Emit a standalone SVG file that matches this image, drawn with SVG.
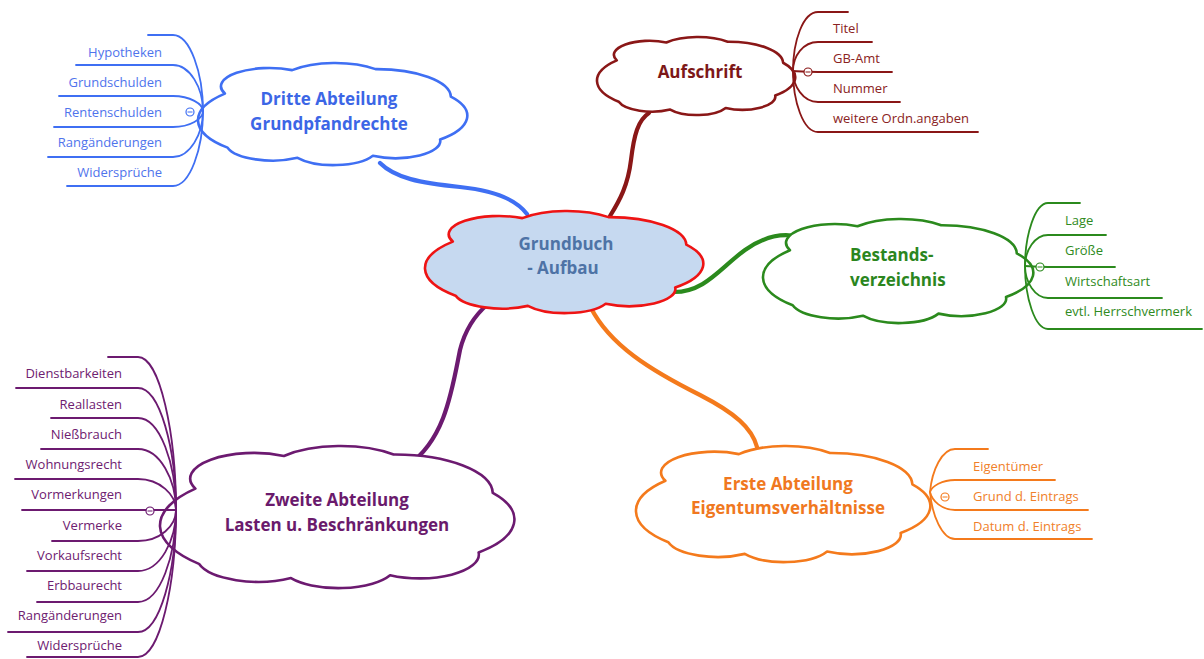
<svg xmlns="http://www.w3.org/2000/svg" xmlns:xlink="http://www.w3.org/1999/xlink" width="1204" height="659" viewBox="0 0 1204 659">
<style>
.title{font-family:"Open Sans","Liberation Sans",sans-serif;font-size:17px;font-weight:bold;text-anchor:middle}
.leaf{font-family:"Open Sans","Liberation Sans",sans-serif;font-size:13px}
.l{text-anchor:end}
.cl{stroke-width:2.6;stroke-linejoin:round}
.lf{fill:none;stroke-width:1.8;stroke-linecap:round}
.con{fill:none;stroke-width:4.2;stroke-linecap:round}
.tog{fill:#fff;stroke-width:1.2}
.blue{stroke:#3f6ff3}
.red{stroke:#8a1717}
.green{stroke:#2b8a1d}
.purple{stroke:#6c1a70}
.orange{stroke:#f47a1c}
</style>
<defs>
<path id="cloud" vector-effect="non-scaling-stroke" d="M10 30A18 18 0 0 1 35 7A21.7 21.7 0 0 1 66 6A27.6 27.6 0 0 1 94 33A31.8 31.8 0 0 1 90 75A16.7 16.7 0 0 1 65 91A16.25 16.25 0 0 1 37 93A17.4 17.4 0 0 1 11 83A38.7 38.7 0 0 1 10 30Z"/>
</defs>
<rect width="1204" height="659" fill="#fff"/>

<g id="connectors">
<path class="con blue" d="M527 214C515 198 490 190 460 187C420 183 395 178 380 163"/>
<path class="con red" d="M610 216C620 200 628 185 631 160C634 135 638 120 649 113"/>
<path class="con green" d="M674 292C705 292 720 268 745 250C765 236 785 232 803 238"/>
<path class="con purple" d="M488 304C475 315 465 330 460 350C452 390 445 440 408 465"/>
<path class="con orange" d="M591 308C610 345 650 370 700 395C735 413 752 428 757 447"/>
</g>

<g id="central">
<use href="#cloud" class="cl" style="fill:#c6d9f0;stroke:#ee1414" transform="translate(425 211) scale(2.78 1.02)"/>
<text class="title" fill="#4e73a6" x="566" y="250">Grundbuch</text>
<text class="title" fill="#4e73a6" x="563" y="274">- Aufbau</text>
</g>

<g id="dritte">
<use href="#cloud" class="cl blue" fill="#fff" transform="translate(198 63) scale(2.69 1.02)"/>
<text class="title" fill="#3c66e6" x="329" y="105">Dritte Abteilung</text>
<text class="title" fill="#3c66e6" x="329" y="130">Grundpfandrechte</text>
<g class="lf blue">
<path d="M148 35H173C190 35 203 73 203 111"/>
<path d="M76 65H173C190 65 203 88 203 111"/>
<path d="M59 96H173C190 96 203 104 203 111"/>
<path d="M54 127H173C190 127 203 119 203 111"/>
<path d="M48 157H173C190 157 203 134 203 111"/>
<path d="M67 186H173C190 186 203 149 203 111"/>
</g>
<circle class="tog blue" cx="190" cy="112" r="4"/>
<path class="blue" stroke-width="1" d="M187.5 112H192.5"/>
<g class="leaf l" fill="#4f74ec">
<text x="162" y="57">Hypotheken</text>
<text x="162" y="87">Grundschulden</text>
<text x="162" y="117">Rentenschulden</text>
<text x="162" y="147">Rangänderungen</text>
<text x="162" y="177">Widersprüche</text>
</g>
</g>

<g id="aufschrift">
<use href="#cloud" class="cl red" fill="#fff" transform="translate(597 37) scale(1.98 0.78)"/>
<text class="title" fill="#7d1818" x="700" y="78">Aufschrift</text>
<g class="lf red">
<path d="M793 71C793 41 803 12 818 12H848"/>
<path d="M793 71C793 56 803 42 818 42H872"/>
<path d="M793 71C796 71 803 72 818 72H892"/>
<path d="M793 71C793 86 803 102 818 102H900"/>
<path d="M793 71C793 101 803 132 818 132H978"/>
</g>
<circle class="tog red" cx="808" cy="72" r="4"/>
<path class="red" stroke-width="1" d="M805.5 72H810.5"/>
<g class="leaf" fill="#8a2222">
<text x="833" y="33">Titel</text>
<text x="833" y="63">GB-Amt</text>
<text x="833" y="93">Nummer</text>
<text x="833" y="123">weitere Ordn.angaben</text>
</g>
</g>

<g id="bestand">
<use href="#cloud" class="cl green" fill="#fff" transform="translate(763 219) scale(2.7 1.04)"/>
<text class="title" fill="#2b861e" x="850" y="261" style="text-anchor:start">Bestands-</text>
<text class="title" fill="#2b861e" x="850" y="286" style="text-anchor:start">verzeichnis</text>
<g class="lf green">
<path d="M1025 266C1025 235 1035 203 1048 203H1080"/>
<path d="M1025 266C1025 250 1035 235 1048 235H1106"/>
<path d="M1025 266C1028 266 1035 267 1048 267H1115"/>
<path d="M1025 266C1025 282 1035 298 1048 298H1162"/>
<path d="M1025 266C1025 298 1035 329 1048 329H1202"/>
</g>
<circle class="tog green" cx="1040" cy="267" r="4"/>
<path class="green" stroke-width="1" d="M1037.5 267H1042.5"/>
<g class="leaf" fill="#2f8a22">
<text x="1065" y="225">Lage</text>
<text x="1065" y="255">Größe</text>
<text x="1065" y="286">Wirtschaftsart</text>
<text x="1065" y="316">evtl. Herrschvermerk</text>
</g>
</g>

<g id="zweite">
<use href="#cloud" class="cl purple" fill="#fff" transform="translate(160 446) scale(3.54 1.42)"/>
<text class="title" fill="#6a1a6c" x="337" y="506">Zweite Abteilung</text>
<text class="title" fill="#6a1a6c" x="337" y="531">Lasten u. Beschränkungen</text>
<g class="lf purple">
<path d="M108 357H138C160 357 176 434 176 510"/>
<path d="M16 388H138C160 388 176 449 176 510"/>
<path d="M51 418H138C160 418 176 464 176 510"/>
<path d="M41 449H138C160 449 176 480 176 510"/>
<path d="M15 479H138C160 479 176 495 176 510"/>
<path d="M22 510H176"/>
<path d="M52 541H138C160 541 176 526 176 510"/>
<path d="M27 571H138C160 571 176 541 176 510"/>
<path d="M37 602H138C160 602 176 556 176 510"/>
<path d="M8 632H138C160 632 176 571 176 510"/>
<path d="M27 657H138C160 657 176 584 176 510"/>
</g>
<circle class="tog purple" cx="150" cy="511" r="4"/>
<path class="purple" stroke-width="1" d="M147.5 511H152.5"/>
<g class="leaf l" fill="#6e2070">
<text x="122" y="378">Dienstbarkeiten</text>
<text x="122" y="409">Reallasten</text>
<text x="122" y="439">Nießbrauch</text>
<text x="122" y="469">Wohnungsrecht</text>
<text x="122" y="499">Vormerkungen</text>
<text x="122" y="530">Vermerke</text>
<text x="122" y="560">Vorkaufsrecht</text>
<text x="122" y="590">Erbbaurecht</text>
<text x="122" y="620">Rangänderungen</text>
<text x="122" y="650">Widersprüche</text>
</g>
</g>

<g id="erste">
<use href="#cloud" class="cl orange" fill="#fff" transform="translate(636 446) scale(2.94 1.16)"/>
<text class="title" fill="#f07820" x="788" y="490">Erste Abteilung</text>
<text class="title" fill="#f07820" x="788" y="514">Eigentumsverhältnisse</text>
<g class="lf orange">
<path d="M930 492C932 470 942 449 955 449H988"/>
<path d="M930 492C932 486 942 480 955 480H1055"/>
<path d="M930 492C932 501 942 510 955 510H1088"/>
<path d="M930 492C932 515 942 539 955 539H1092"/>
</g>
<circle class="tog orange" cx="945" cy="497" r="4"/>
<path class="orange" stroke-width="1" d="M942.5 497H947.5"/>
<g class="leaf" fill="#f0802a">
<text x="973" y="471">Eigentümer</text>
<text x="973" y="501">Grund d. Eintrags</text>
<text x="973" y="531">Datum d. Eintrags</text>
</g>
</g>
</svg>
